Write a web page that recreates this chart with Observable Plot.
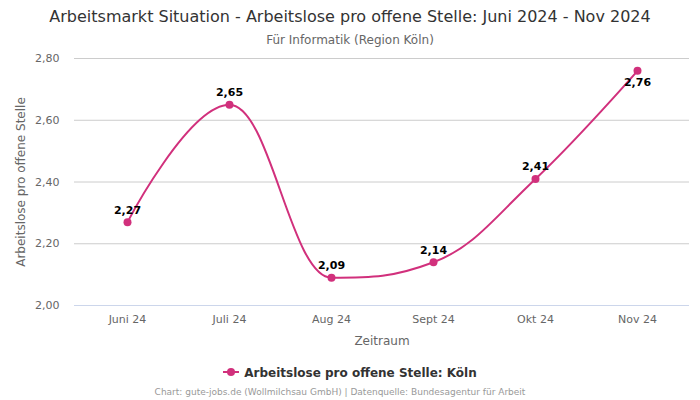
<!DOCTYPE html>
<html><head><meta charset="utf-8">
<script src="https://cdn.jsdelivr.net/npm/d3@7"></script>
<script src="https://cdn.jsdelivr.net/npm/@observablehq/plot@0.6"></script>
<style>
body{margin:0;width:700px;height:400px;position:relative;background:#fff;font-family:"DejaVu Sans",sans-serif;overflow:hidden}
#title{position:absolute;top:7px;left:0;width:700px;text-align:center;font-size:16px;line-height:20px;color:#333}
#sub{position:absolute;top:32px;left:0;width:700px;text-align:center;font-size:12px;line-height:16px;color:#666}
#chart{position:absolute;top:48px;left:0}
#legend{position:absolute;top:365px;left:0;width:700px;text-align:center;font-size:12px;line-height:16px;font-weight:bold;color:#333}
#footer{position:absolute;top:386px;left:-10px;width:700px;text-align:center;font-size:9px;line-height:12px;color:#999}
</style></head>
<body>
<div id="title">Arbeitsmarkt Situation - Arbeitslose pro offene Stelle: Juni 2024 - Nov 2024</div>
<div id="sub">Für Informatik (Region Köln)</div>
<div id="chart"></div>
<div id="legend"><svg width="16" height="10" style="vertical-align:0px;margin-right:5px"><line x1="0" y1="5" x2="16" y2="5" stroke="#d1307c" stroke-width="2"/><circle cx="8" cy="5" r="4" fill="#d1307c"/></svg>Arbeitslose pro offene Stelle: Köln</div>
<div id="footer">Chart: gute-jobs.de (Wollmilchsau GmbH) | Datenquelle: Bundesagentur für Arbeit</div>
<script>
const months = ["Juni 24","Juli 24","Aug 24","Sept 24","Okt 24","Nov 24"];
const values = [2.27, 2.65, 2.09, 2.14, 2.41, 2.76];
const yTicks = [2.0, 2.2, 2.4, 2.6, 2.8];
const color = "#d1307c";
const data = months.map((m,i)=>({month:m, value:values[i], last:i===months.length-1}));
const fmt = d => d.toFixed(2).replace(".", ",");

// Spline curve with smoothing 1.5 and flattened extremes (Highcharts-style)
function splineCurve(context){
  return {
    areaStart(){}, areaEnd(){},
    lineStart(){ this.pts = []; },
    point(x,y){ this.pts.push({x:+x, y:+y}); },
    lineEnd(){
      const p = this.pts, n = p.length, s = 1.5, den = s + 1;
      if (!n) return;
      for (let i = 1; i < n - 1; i++) {
        const a = p[i-1], b = p[i], c = p[i+1];
        let lx = (s*b.x + a.x)/den, ly = (s*b.y + a.y)/den;
        let rx = (s*b.x + c.x)/den, ry = (s*b.y + c.y)/den;
        let corr = 0;
        if (rx !== lx) corr = ((ry - ly)*(rx - b.x))/(rx - lx) + b.y - ry;
        ly += corr; ry += corr;
        if (ly > a.y && ly > b.y) { ly = Math.max(a.y, b.y); ry = 2*b.y - ly; }
        else if (ly < a.y && ly < b.y) { ly = Math.min(a.y, b.y); ry = 2*b.y - ly; }
        if (ry > c.y && ry > b.y) { ry = Math.max(c.y, b.y); ly = 2*b.y - ry; }
        else if (ry < c.y && ry < b.y) { ry = Math.min(c.y, b.y); ly = 2*b.y - ry; }
        b.lx = lx; b.ly = ly; b.rx = rx; b.ry = ry;
      }
      context.moveTo(p[0].x, p[0].y);
      for (let i = 1; i < n; i++) {
        const a = p[i-1], b = p[i];
        context.bezierCurveTo(
          a.rx ?? a.x, a.ry ?? a.y,
          b.lx ?? b.x, b.ly ?? b.y,
          b.x, b.y);
      }
    }
  };
}

const chart = Plot.plot({
  width:700, height:300,
  marginTop:10, marginBottom:43, marginLeft:74, marginRight:11,
  style:{fontFamily:'"DejaVu Sans",sans-serif', fontSize:"11px", color:"#666", background:"transparent"},
  x:{type:"point", domain:months, padding:0.5},
  y:{domain:[2.0,2.8]},
  marks:[
    Plot.gridY(yTicks,{stroke:"#cccccc", strokeOpacity:1}),
    Plot.ruleY([2.0],{stroke:"#ccd6eb"}),
    Plot.axisY(yTicks,{tickFormat:fmt, tickSize:0, tickPadding:15, fontSize:11, fill:"#666", label:null}),
    Plot.axisY({label:"Arbeitslose pro offene Stelle", labelAnchor:"center", labelArrow:"none", labelOffset:58, tickSize:0, tickFormat:null, fontSize:12, fill:"#666", ticks:[]}),
    Plot.axisX({tickSize:0, tickPadding:10, fontSize:11, fill:"#666", label:null}),
    Plot.axisX({label:"Zeitraum", labelAnchor:"center", labelArrow:"none", labelOffset:39, tickSize:0, fontSize:12, fill:"#666", ticks:[]}),
    Plot.line(data,{x:"month", y:"value", curve:splineCurve, stroke:color, strokeWidth:2}),
    Plot.dot(data,{x:"month", y:"value", r:4, fill:color}),
    Plot.text(data.filter(d=>!d.last),{x:"month", y:"value", text:d=>fmt(d.value), dy:-12, fontWeight:"bold", fontSize:11, fill:"#000"}),
    Plot.text(data.filter(d=>d.last),{x:"month", y:"value", text:d=>fmt(d.value), dy:12, fontWeight:"bold", fontSize:11, fill:"#000"})
  ]
});
document.getElementById("chart").appendChild(chart);
</script>
</body></html>
